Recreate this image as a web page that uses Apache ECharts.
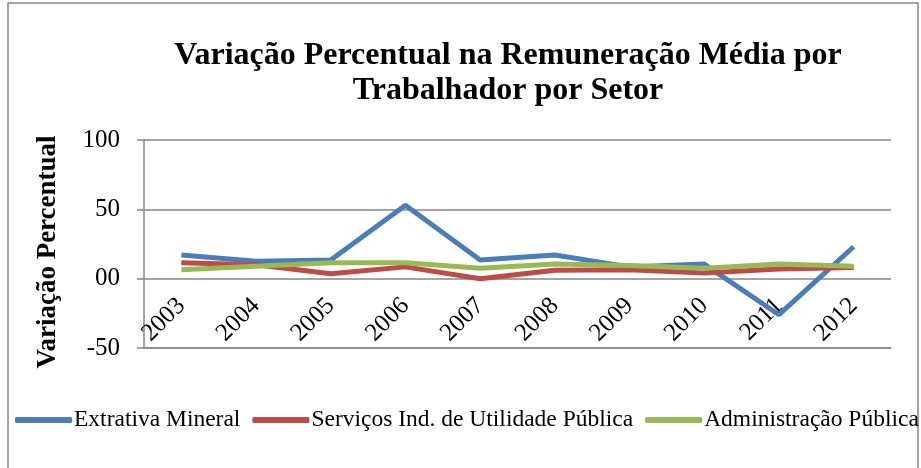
<!DOCTYPE html>
<html>
<head>
<meta charset="utf-8">
<script src="https://cdn.jsdelivr.net/npm/echarts@6/dist/echarts.min.js"></script>
<style>
  html, body { margin: 0; padding: 0; background: #fff; }
  #chart { width: 921px; height: 468px; }
</style>
</head>
<body>
<div id="chart"></div>
<script>
const anos = ["2003", "2004", "2005", "2006", "2007", "2008", "2009", "2010", "2011", "2012"];
const extrativaMineral = [17, 12.5, 13.5, 53, 13.5, 17, 8.5, 10.5, -26, 23];
const servicosUtilidade = [11.5, 10, 3.5, 8.5, 0, 6, 6.5, 4, 7, 8];
const administracaoPublica = [6.5, 9, 11.5, 11.5, 7.5, 10.5, 9.5, 7.5, 10.5, 9];
const yTicks = { "100": "100", "50": "50", "0": "00", "-50": "-50" };

const fonte = "'Liberation Serif', 'Times New Roman', serif";
const cinza = "#868686";

let chart = echarts.init(document.getElementById("chart"));
chart.setOption({
  textStyle: { fontFamily: fonte },
  title: {
    text: "Variação Percentual na Remuneração Média por\nTrabalhador por Setor",
    left: 503,
    textAlign: "center",
    top: 33,
    textStyle: { fontFamily: fonte, fontWeight: "bold", fontSize: 32, lineHeight: 35, color: "#000" }
  },
  graphic: [{
    type: "rect",
    shape: { x: 8, y: 3, width: 910, height: 470 },
    style: { fill: "none", stroke: cinza, lineWidth: 1.5 },
    silent: true
  }],
  legend: {
    top: 408,
    left: 15,
    padding: 0,
    itemWidth: 57,
    itemHeight: 6,
    itemGap: 12,
    icon: "roundRect",
    textStyle: { fontFamily: fonte, fontSize: 23.5, color: "#000", padding: [0, 0, 0, -3] },
    data: ["Extrativa Mineral", "Serviços Ind. de Utilidade Pública", "Administração Pública"]
  },
  grid: { left: 144, right: 30, top: 140, bottom: 120 },
  xAxis: {
    type: "category",
    data: anos,
    axisLine: { onZero: false, lineStyle: { color: cinza, width: 1.5 } },
    axisTick: { show: false },
    axisLabel: { rotate: 45, margin: -46, fontSize: 25, color: "#000", fontFamily: fonte, interval: 0 }
  },
  yAxis: {
    type: "value",
    min: -50,
    max: 100,
    interval: 50,
    name: "Variação Percentual",
    nameLocation: "middle",
    nameGap: 82,
    nameTextStyle: { fontFamily: fonte, fontWeight: "bold", fontSize: 27, color: "#000", padding: [0, 16, 0, 0] },
    axisLine: { show: true, lineStyle: { color: cinza, width: 1.5 } },
    axisTick: { show: true, length: 7, lineStyle: { color: cinza, width: 1.5 } },
    axisLabel: {
      margin: 24, fontSize: 25, color: "#000", fontFamily: fonte,
      formatter: v => yTicks[String(v)]
    },
    splitLine: { lineStyle: { color: cinza, width: 1.5 } }
  },
  series: [
    {
      name: "Extrativa Mineral",
      type: "line",
      data: extrativaMineral,
      symbol: "none",
      lineStyle: { width: 5, color: "#4a7ebb" },
      itemStyle: { color: "#4a7ebb" }
    },
    {
      name: "Serviços Ind. de Utilidade Pública",
      type: "line",
      data: servicosUtilidade,
      symbol: "none",
      lineStyle: { width: 5, color: "#be4b48" },
      itemStyle: { color: "#be4b48" }
    },
    {
      name: "Administração Pública",
      type: "line",
      data: administracaoPublica,
      symbol: "none",
      lineStyle: { width: 5, color: "#98b954" },
      itemStyle: { color: "#98b954" }
    }
  ]
});
</script>
</body>
</html>
